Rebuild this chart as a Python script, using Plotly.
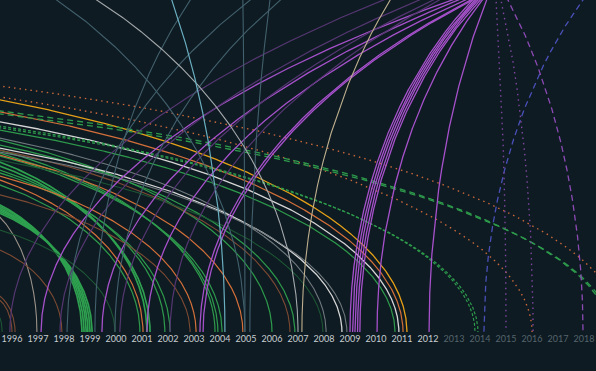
import numpy as np
import plotly.graph_objects as go

X_MIN, X_MAX = 1995.54, 2018.46
BG = "#0e1b22"

# x-axis years
years = list(range(1996, 2019))
last_past_year = 2012

# ---- arcs that enter from the left edge of the chart ----
left_end = [1995.62, 1996.00, 1996.12, 1996.96, 1997.92,
            1998.69, 1998.77, 1998.85, 1998.92, 1999.00, 1999.08,
            1999.96, 2000.92, 2001.04, 2001.19, 2001.31, 2001.88, 2002.08,
            2002.85, 2003.08, 2003.81, 2003.92, 2004.08, 2004.88,
            2006.00, 2006.69, 2006.88, 2007.96, 2008.08, 2008.69, 2008.88,
            2010.73, 2010.88, 2011.04, 2011.19,
            2013.81, 2013.92, 2016.00, 2019.50, 2018.95, 2019.05]
left_edge = [0.042, 0.096, 0.108, 0.346, 0.247,
             0.383, 0.378, 0.373, 0.368, 0.363, 0.358,
             0.307, 0.443, 0.458, 0.512, 0.500, 0.488, 0.479,
             0.413, 0.470, 0.548, 0.539, 0.530, 0.533,
             0.578, 0.548, 0.563, 0.518, 0.584, 0.554, 0.542,
             0.608, 0.633, 0.663, 0.699,
             0.620, 0.615, 0.708, 0.741, 0.666, 0.657]
left_kind = ["dimgreen", "brown", "brown", "taupe", "brown",
             "greenthick", "greenthick", "greenthick", "greenthick", "greenthick", "greenthick",
             "dimgreen", "green", "orange", "greenthick", "greenthick", "green", "green",
             "brown", "orange", "green", "green", "green", "orange",
             "green", "brown", "green", "dimgreen", "gray", "white", "gray",
             "green", "white", "orange", "yellow",
             "greenfine", "greenfine", "orangedot", "orangedot", "greendash", "greendash"]

# ---- arcs that leave through the top edge of the chart ----
top_end = [2009.00, 2009.10, 2009.19, 2009.29, 2009.38, 2010.04, 2012.04,
           2003.23, 2003.35, 2001.19, 1999.46, 1997.12,
           1995.92, 1997.85, 2000.15, 2002.08,
           1999.19, 1998.12, 1999.96, 2004.96, 2005.15,
           2014.15, 2007.15, 2007.00, 2004.19, 2004.96,
           2015.00, 2016.04, 2017.96]
top_exit = [2013.70, 2013.78, 2013.85, 2013.92, 2014.00, 2014.08, 2014.25,
            2013.62, 2013.69, 2013.42, 2013.15, 2012.92,
            2010.27, 2011.65, 2012.19, 2012.42,
            2002.85, 2005.15, 2006.31, 2004.88, 2005.92,
            2017.95, 2010.54, 1999.27, 2002.15, 1997.73,
            2014.62, 2014.81, 2015.08]
top_crest = [1.3, 1.3, 1.3, 1.3, 1.3, 1.4, 1.6,
             1.5, 1.5, 1.5, 1.6, 1.6,
             1.8, 1.8, 1.7, 1.7,
             1.5, 1.5, 1.5, 2.0, 2.0,
             1.4, 1.6, 1.3, 2.0, 1.3,
             1.5, 1.5, 1.5]
top_kind = ["purple"] * 7 + ["purple"] * 5 + ["dimpurple"] * 4 + ["slate"] * 5 + \
           ["bluedash", "beige", "silver", "lightblue", "slate",
            "purpledot", "purpledot", "purpledash"]

styles = {
    "green": dict(color="#2e9b4c", width=1.2),
    "greenthick": dict(color="#2ea04f", width=1.7),
    "dimgreen": dict(color="#1d5534", width=1.1),
    "orange": dict(color="#d4703a", width=1.2),
    "brown": dict(color="#7d4a33", width=1.1),
    "taupe": dict(color="#9a928a", width=1.1),
    "beige": dict(color="#bfb08f", width=1.1),
    "white": dict(color="#d6d6d6", width=1.3),
    "silver": dict(color="#a4a9ac", width=1.1),
    "gray": dict(color="#6f787d", width=1.1),
    "yellow": dict(color="#e5a018", width=1.3),
    "slate": dict(color="#42606d", width=1.1),
    "lightblue": dict(color="#6aaec0", width=1.2),
    "purple": dict(color="#a651cb", width=1.3),
    "dimpurple": dict(color="#553672", width=1.2),
    "greendash": dict(color="#2e9b4c", width=1.3, dash="6px,4px"),
    "greenfine": dict(color="#2e9b4c", width=1.2, dash="3px,2px"),
    "orangedot": dict(color="#c8673a", width=1.4, dash="1.5px,4px"),
    "purpledot": dict(color="#7e46a0", width=1.4, dash="1.5px,4px"),
    "purpledash": dict(color="#8c4ab5", width=1.3, dash="6px,4px"),
    "bluedash": dict(color="#4a50b8", width=1.3, dash="6px,4px"),
}

LEFT_CREST = 1.15  # crest height relative to the height at the left edge


def arc(end, xq, hq, crest):
    """Quarter ellipse: vertical at (end, 0), horizontal crest at height `crest`,
    passing through (xq, hq)."""
    s = np.sqrt(max(0.0, 1.0 - (hq / crest) ** 2))
    xp = (xq - s * end) / (1.0 - s)
    t = np.linspace(0, np.pi / 2, 3000)
    x = xp + (end - xp) * np.sin(t)
    y = crest * np.cos(t)
    m = (x >= X_MIN - 0.05) & (x <= X_MAX + 0.05) & (y <= 1.01)
    idx = np.where(m)[0]
    if len(idx) == 0:
        return x[:0], y[:0]
    lo, hi = max(idx[0] - 2, 0), min(idx[-1] + 2, len(t) - 1)
    return x[lo:hi + 1], y[lo:hi + 1]


fig = go.Figure()


def add(x, y, kind):
    st = dict(styles[kind])
    fig.add_trace(go.Scatter(x=x, y=y, mode="lines", line=st,
                             hoverinfo="skip", showlegend=False))


for e, h, k in zip(left_end, left_edge, left_kind):
    x, y = arc(e, X_MIN, h, h * LEFT_CREST)
    add(x, y, k)

for e, xq, c, k in zip(top_end, top_exit, top_crest, top_kind):
    x, y = arc(e, xq, 1.0, c)
    add(x, y, k)

ticktext = [
    f'<span style="color:{"#c9ced2" if yr <= last_past_year else "#56656d"}">{yr}</span>'
    for yr in years
]

fig.update_layout(
    width=596, height=371,
    margin=dict(l=0, r=0, t=0, b=39),
    paper_bgcolor=BG, plot_bgcolor=BG,
    showlegend=False,
    font=dict(family="Lato, sans-serif", size=9, color="#c9ced2"),
    xaxis=dict(range=[X_MIN, X_MAX], tickvals=years, ticktext=ticktext,
               showgrid=False, zeroline=False, showline=False, ticks="",
               tickfont=dict(size=9), fixedrange=True),
    yaxis=dict(range=[0, 1], visible=False, fixedrange=True),
)

fig.write_html(
    "out.html",
    config={"displayModeBar": False},
    post_script=(
        "document.body.style.margin='0';"
        "document.body.style.padding='0';"
        "document.body.style.overflow='hidden';"
        f"document.body.style.background='{BG}';"
    ),
)
